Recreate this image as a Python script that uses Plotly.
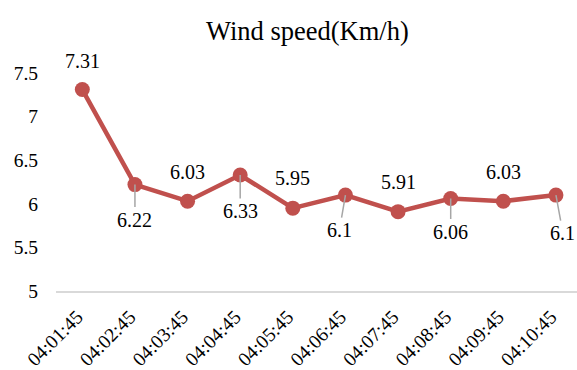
import plotly.graph_objects as go

# ---- data ----
times = ["04:01:45", "04:02:45", "04:03:45", "04:04:45", "04:05:45",
         "04:06:45", "04:07:45", "04:08:45", "04:09:45", "04:10:45"]
wind_speed = [7.31, 6.22, 6.03, 6.33, 5.95, 6.1, 5.91, 6.06, 6.03, 6.1]
y_ticks = [5, 5.5, 6, 6.5, 7, 7.5]
title_text = "Wind speed(Km/h)"

# ---- label placement (pixel offsets of label centre from the point) ----
label_dx = [0, 0, 0, 0, 0, -6, 0, 0, 0, 7]
label_dy = [-29, 35, -29.5, 36, -30.5, 35, -30, 33, -29.5, 38]
leader = [False, True, False, True, False, True, False, True, False, True]

FONT = "Liberation Serif"
LINE_COLOR = "#C0504D"

fig = go.Figure()
fig.add_trace(go.Scatter(
    x=times, y=wind_speed, mode="lines+markers",
    line=dict(color=LINE_COLOR, width=4.5),
    marker=dict(color=LINE_COLOR, size=15),
    cliponaxis=False, hoverinfo="x+y", showlegend=False,
))

annotations = []
for t, v, dx, dy, ld in zip(times, wind_speed, label_dx, label_dy, leader):
    if ld:
        annotations.append(dict(
            x=t, y=v, text=f"{v:g}", showarrow=True, ax=dx, ay=dy,
            arrowhead=0, arrowwidth=1.5, arrowcolor="#A6A6A6", standoff=0,
            font=dict(family=FONT, size=20, color="#000000"),
        ))
    else:
        annotations.append(dict(
            x=t, y=v, text=f"{v:g}", showarrow=False, xshift=dx, yshift=-dy,
            font=dict(family=FONT, size=20, color="#000000"),
        ))

annotations.append(dict(
    xref="paper", yref="paper", x=(307 - 56) / 521, y=1 + (73 - 31) / 218,
    text=title_text, showarrow=False, xanchor="center", yanchor="middle",
    font=dict(family=FONT, size=26.5, color="#000000"),
))

fig.update_layout(
    width=577, height=370,
    margin=dict(l=56, r=0, t=73, b=79, pad=0, autoexpand=False),
    paper_bgcolor="white", plot_bgcolor="white",
    font=dict(family=FONT, size=20, color="#000000"),
    annotations=annotations,
    xaxis=dict(
        type="category", range=[-0.5, 9.4], tickangle=-45,
        showgrid=False, zeroline=False, automargin=False,
        showline=True, linecolor="#D9D9D9", linewidth=1.5,
        ticks="", ticklabelstandoff=5, ticklabelshift=-5,
        tickfont=dict(family=FONT, size=19.5, color="#000000"),
    ),
    yaxis=dict(
        range=[5, 7.5], tickvals=y_ticks, ticktext=[f"{v:g}" for v in y_ticks],
        showgrid=False, zeroline=False, showline=False, ticks="",
        automargin=False, ticklabelstandoff=17,
        tickfont=dict(family=FONT, size=19.5, color="#000000"),
    ),
)

fig.write_html("out.html")
